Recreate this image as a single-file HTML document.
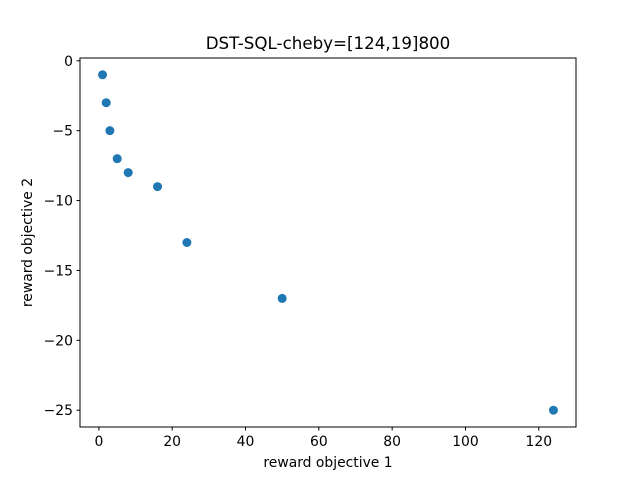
<!DOCTYPE html>
<html><head><meta charset="utf-8"><style>
body{margin:0;background:#fff;font-family:"Liberation Sans","DejaVu Sans",sans-serif;}
svg text{font-family:"DejaVu Sans","Liberation Sans",sans-serif;}
</style></head><body>
<svg id="chart" width="640" height="480" xmlns="http://www.w3.org/2000/svg">
<rect width="640" height="480" fill="#fff"/>
<text x="328" y="49" text-anchor="middle" font-size="16.7">DST-SQL-cheby=[124,19]800</text>
<g id="ticks"></g>
<g id="points"></g>
<rect x="80" y="58" width="496" height="369" fill="none" stroke="#000" stroke-width="1"/>
<text x="328" y="467" text-anchor="middle" font-size="13.9">reward objective 1</text>
<text transform="translate(32,242.5) rotate(-90)" text-anchor="middle" font-size="13.9">reward objective 2</text>
</svg>
<script>
const xValues=[1,2,3,5,8,16,24,50,124];
const yValues=[-1,-3,-5,-7,-8,-9,-13,-17,-25];
const xTicks=[0,20,40,60,80,100,120];
const yTicks=[0,-5,-10,-15,-20,-25];
const ns="http://www.w3.org/2000/svg";
const L=80,R=576,T=58,B=427;
const xmin=Math.min(...xValues),xmax=Math.max(...xValues),ymin=Math.min(...yValues),ymax=Math.max(...yValues);
const xm=(xmax-xmin)*0.05,ym=(ymax-ymin)*0.05;
const x0=xmin-xm,x1=xmax+xm,y0=ymin-ym,y1=ymax+ym;
const sx=v=>L+(v-x0)/(x1-x0)*(R-L);
const sy=v=>B-(v-y0)/(y1-y0)*(B-T);
const tg=document.getElementById('ticks'),pg=document.getElementById('points');
function mk(t,a){const e=document.createElementNS(ns,t);for(const k in a)e.setAttribute(k,a[k]);return e;}
xTicks.forEach(v=>{const x=sx(v);
const l=mk('line',{x1:x,x2:x,y1:B,y2:B+3.5,stroke:'#000'});


tg.appendChild(l);
const t=mk('text',{x:x,y:B+19,'text-anchor':'middle','font-size':'13.9'});t.textContent=v;


tg.appendChild(t);});
yTicks.forEach(v=>{const y=sy(v);
const l=mk('line',{x1:L-3.5,x2:L,y1:y,y2:y,stroke:'#000'});


tg.appendChild(l);
const t=mk('text',{x:L-7,y:y+5,'text-anchor':'end','font-size':'13.9'});t.textContent=v===0?'0':'\u2212'+Math.abs(v);


tg.appendChild(t);});
xValues.forEach((v,i)=>{const c=mk('circle',{cx:sx(v),cy:sy(yValues[i]),r:4.5,fill:'#1f77b4'});


pg.appendChild(c);});
</script>
</body></html>
